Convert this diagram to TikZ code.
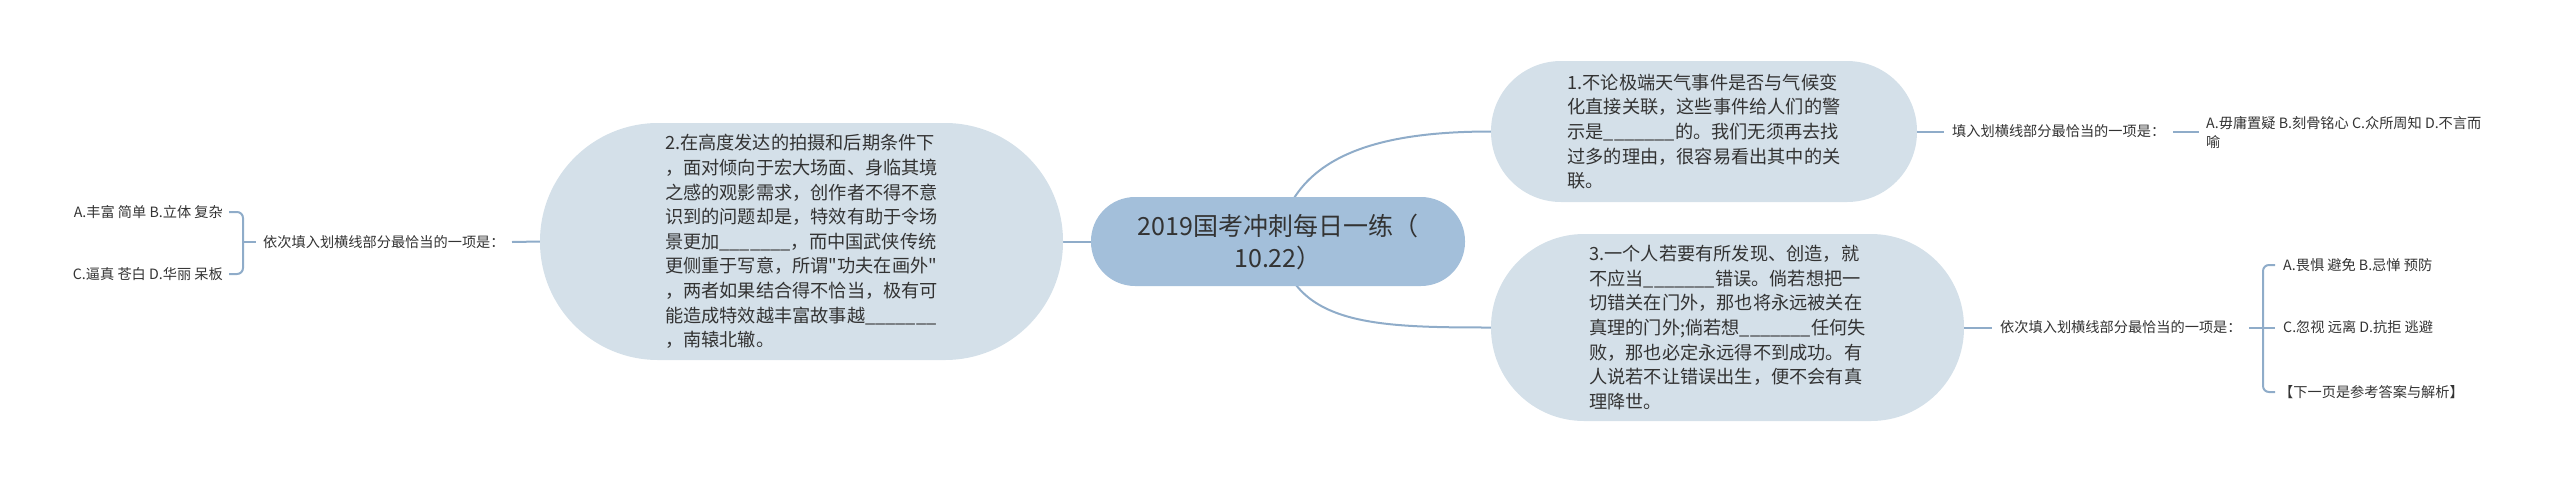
\documentclass[tikz,border=0pt]{standalone}
\usepackage{fontspec}
\setmainfont{Noto Sans CJK SC}
\newfontfamily\plainq{Noto Sans CJK SC}
\usetikzlibrary{backgrounds}
\definecolor{cmain}{RGB}{163,191,218}
\definecolor{csub}{RGB}{212,224,233}
\definecolor{cline}{RGB}{143,172,201}
\definecolor{ctext}{RGB}{51,51,51}
\tikzset{
  pill/.style={fill=csub, draw=none, rounded corners=#1, inner sep=0pt, align=left, text=ctext,
    font=\fontsize{18.2pt}{24.6pt}\selectfont},
  rootbox/.style={fill=cmain, draw=none, rounded corners=44pt, inner sep=0pt, align=center, text=ctext,
    font=\fontsize{25pt}{32pt}\selectfont, minimum width=374pt, minimum height=89pt},
  smalltext/.style={inner sep=0pt, text=ctext, align=left, font=\fontsize{14.2pt}{19pt}\selectfont},
  conn/.style={draw=cline, line width=2pt},
  brack/.style={draw=cline, line width=2pt, rounded corners=6pt}
}
\begin{document}
\begin{tikzpicture}[x=1pt,y=-1pt]
\useasboundingbox (0,0) rectangle (2560,483);

% main nodes
\node[rootbox] (C) at (1278,241.5) {2019国考冲刺每日一练（\\10.22）};
\node[pill=118pt, minimum width=523pt, minimum height=237pt] (L) at (801.5,241.5)
 {2.在高度发达的拍摄和后期条件下\\，面对倾向于宏大场面、身临其境\\之感的观影需求，创作者不得不意\\识到的问题却是，特效有助于令场\\景更加\_\_\_\_\_\_\_，而中国武侠传统\\更侧重于写意，所谓{\plainq "}功夫在画外{\plainq "}\\，两者如果结合得不恰当，极有可\\能造成特效越丰富故事越\_\_\_\_\_\_\_\\，南辕北辙。};
\node[pill=70pt, minimum width=426pt, minimum height=141pt] (TR) at (1704,131.5)
 {1.不论极端天气事件是否与气候变\\化直接关联，这些事件给人们的警\\示是\_\_\_\_\_\_\_的。我们无须再去找\\过多的理由，很容易看出其中的关\\联。};
\node[pill=93pt, minimum width=473pt, minimum height=187pt] (BR) at (1727.5,327.5)
 {3.一个人若要有所发现、创造，就\\不应当\_\_\_\_\_\_\_错误。倘若想把一\\切错关在门外，那也将永远被关在\\真理的门外;倘若想\_\_\_\_\_\_\_任何失\\败，那也必定永远得不到成功。有\\人说若不让错误出生，便不会有真\\理降世。};

% left branch
\node[smalltext, anchor=west] (LL) at (263,242) {依次填入划横线部分最恰当的一项是：};
\node[smalltext, anchor=east] (LA) at (223,212) {A.丰富 简单 B.立体 复杂};
\node[smalltext, anchor=east] (LC) at (223,274) {C.逼真 苍白 D.华丽 呆板};

% top right branch
\node[smalltext, anchor=west] (TL) at (1952,131.5) {填入划横线部分最恰当的一项是：};
\node[smalltext, anchor=west] (TA) at (2206,132.5) {A.毋庸置疑 B.刻骨铭心 C.众所周知 D.不言而\\喻};

% bottom right branch
\node[smalltext, anchor=west] (BL) at (2000,327.5) {依次填入划横线部分最恰当的一项是：};
\node[smalltext, anchor=west] (BA) at (2283,265) {A.畏惧 避免 B.忌惮 预防};
\node[smalltext, anchor=west] (BC) at (2283,327.5) {C.忽视 远离 D.抗拒 逃避};
\node[smalltext, anchor=west] (BD) at (2279,392) {【下一页是参考答案与解析】};

% coordinates
\coordinate (l1) at (512,242);
\coordinate (lb1) at (229,212);
\coordinate (lb2) at (243,212);
\coordinate (lb3) at (243,274);
\coordinate (lb4) at (229,274);
\coordinate (lbm) at (243,242);
\coordinate (lbt) at (256,242);
\coordinate (t1) at (1944,131.5);
\coordinate (t2) at (2173,131.5);
\coordinate (t3) at (2199,131.5);
\coordinate (b1) at (1992,327.5);
\coordinate (b2) at (2249,327.5);
\coordinate (bm) at (2263,327.5);
\coordinate (bt) at (2275,327.5);
\coordinate (bb1) at (2275,265);
\coordinate (bb2) at (2263,265);
\coordinate (bb3) at (2263,392);
\coordinate (bb4) at (2275,392);

\begin{pgfonlayer}{background}
\draw[conn] (C.center) -- (L.east);
\draw[conn] (C.center) .. controls (1292,158) and (1372,131.5) .. (TR.west);
\draw[conn] (C.center) .. controls (1292,325) and (1372,327.5) .. (BR.west);
\end{pgfonlayer}

\draw[conn] (L.west) -- (l1);
\draw[brack] (lb1) -- (lb2) -- (lb3) -- (lb4);
\draw[conn] (lbm) -- (lbt);

\draw[conn] (TR.east) -- (t1);
\draw[conn] (t2) -- (t3);

\draw[conn] (BR.east) -- (b1);
\draw[conn] (b2) -- (bt);
\draw[brack] (bb1) -- (bb2) -- (bb3) -- (bb4);
\end{tikzpicture}
\end{document}
